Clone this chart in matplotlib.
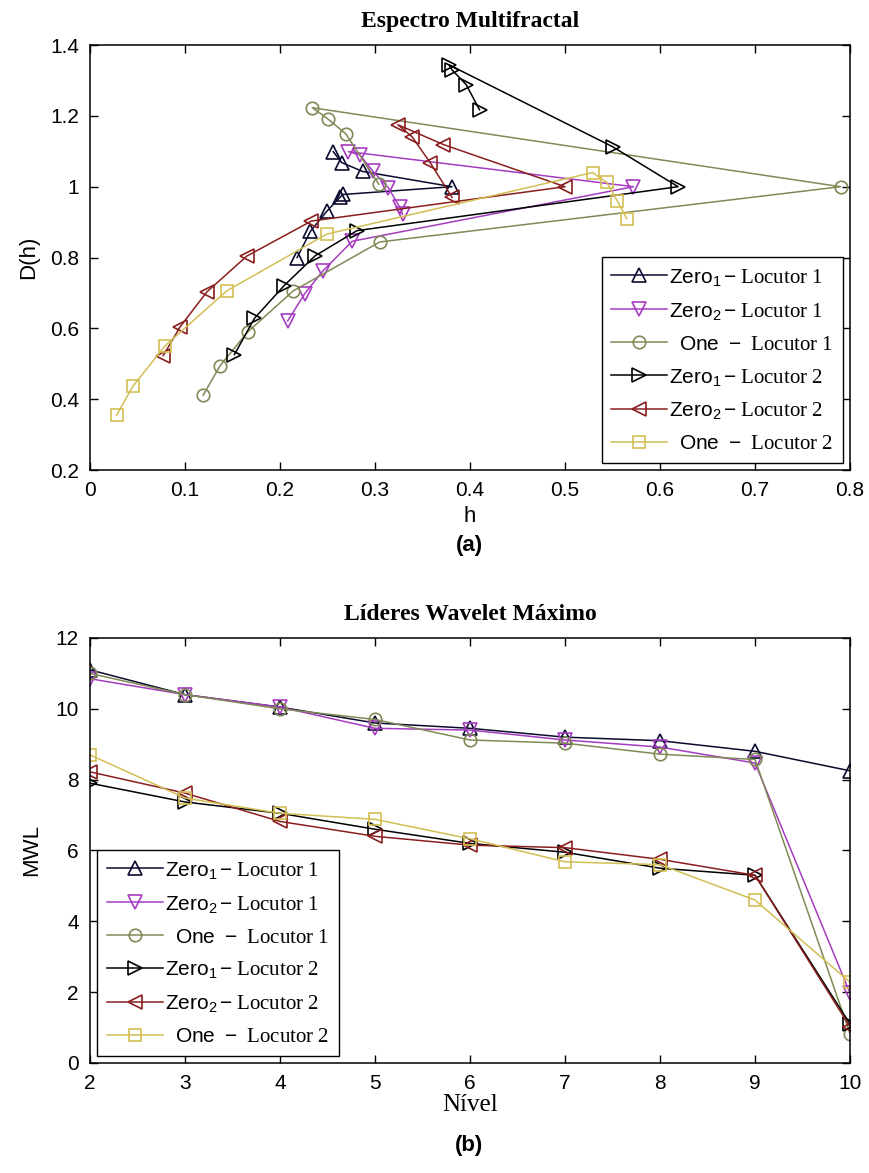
import matplotlib
matplotlib.use('Agg')
import matplotlib.pyplot as plt
import numpy as np

plt.rcParams['font.family'] = ['Liberation Sans', 'DejaVu Sans']
plt.rcParams['mathtext.fontset'] = 'custom'
plt.rcParams['mathtext.rm'] = 'Liberation Serif'
plt.rcParams['mathtext.sf'] = 'Liberation Sans'
plt.rcParams['mathtext.it'] = 'Liberation Serif:italic'

# ---- (a) multifractal spectrum: h, D(h) ----
z1l1_h = [0.218, 0.232, 0.249, 0.263, 0.266, 0.381, 0.287, 0.265, 0.256]
z1l1_d = [0.800, 0.874, 0.930, 0.970, 0.978, 1.000, 1.043, 1.068, 1.099]

z2l1_h = [0.208, 0.226, 0.245, 0.276, 0.572, 0.272, 0.284, 0.298, 0.314, 0.326, 0.329]
z2l1_d = [0.621, 0.698, 0.762, 0.846, 1.000, 1.099, 1.090, 1.043, 0.997, 0.942, 0.922]

one1_h = [0.119, 0.137, 0.166, 0.214, 0.305, 0.790, 0.234, 0.250, 0.269, 0.304]
one1_d = [0.411, 0.495, 0.590, 0.706, 0.844, 1.000, 1.223, 1.192, 1.150, 1.007]

z1l2_h = [0.152, 0.173, 0.204, 0.237, 0.281, 0.619, 0.550, 0.378, 0.381, 0.396, 0.410]
z1l2_d = [0.526, 0.628, 0.720, 0.805, 0.876, 1.000, 1.113, 1.344, 1.330, 1.288, 1.217]

z2l2_h = [0.077, 0.095, 0.123, 0.165, 0.233, 0.500, 0.372, 0.324, 0.339, 0.358, 0.381]
z2l2_d = [0.523, 0.605, 0.703, 0.804, 0.903, 1.000, 1.119, 1.175, 1.141, 1.068, 0.970]

one2_h = [0.028, 0.045, 0.079, 0.144, 0.249, 0.529, 0.544, 0.555, 0.565]
one2_d = [0.355, 0.436, 0.551, 0.706, 0.866, 1.040, 1.012, 0.960, 0.910]

# ---- (b) maximum wavelet leaders per level ----
levels = [2, 3, 4, 5, 6, 7, 8, 9, 10]
mwl_z1l1 = [11.10, 10.40, 10.05, 9.60, 9.45, 9.20, 9.10, 8.80, 8.25]
mwl_z2l1 = [10.85, 10.40, 10.05, 9.45, 9.40, 9.12, 8.92, 8.47, 1.97]
mwl_one1 = [11.00, 10.40, 10.00, 9.70, 9.12, 9.03, 8.72, 8.57, 0.82]
mwl_z1l2 = [7.90, 7.37, 7.05, 6.60, 6.20, 5.95, 5.50, 5.30, 1.10]
mwl_z2l2 = [8.22, 7.62, 6.82, 6.40, 6.15, 6.08, 5.75, 5.30, 1.02]
mwl_one2 = [8.70, 7.48, 7.05, 6.88, 6.33, 5.68, 5.60, 4.60, 2.28]

labels = [
    r'$\mathsf{Zero}_{\mathsf{1}}\,\mathsf{-}\ \mathrm{Locutor\ 1}$',
    r'$\mathsf{Zero}_{\mathsf{2}}\,\mathsf{-}\ \mathrm{Locutor\ 1}$',
    r'$\ \ \mathsf{One}\ \ \mathsf{-}\ \ \mathrm{Locutor\ 1}$',
    r'$\mathsf{Zero}_{\mathsf{1}}\,\mathsf{-}\ \mathrm{Locutor\ 2}$',
    r'$\mathsf{Zero}_{\mathsf{2}}\,\mathsf{-}\ \mathrm{Locutor\ 2}$',
    r'$\ \ \mathsf{One}\ \ \mathsf{-}\ \ \mathrm{Locutor\ 2}$',
]
styles = [
    dict(color='#0a0a2e', marker='^', ms=10),
    dict(color='#a63cc0', marker='v', ms=10),
    dict(color='#7f8a55', marker='o', ms=9),
    dict(color='#000000', marker='>', ms=10),
    dict(color='#8a1e1e', marker='<', ms=10),
    dict(color='#d2bf55', marker='s', ms=8),
]

fig = plt.figure(figsize=(8.69, 11.73), dpi=100)
ax1 = fig.add_axes([0.1036, 0.5993, 0.8746, 0.3623])
ax2 = fig.add_axes([0.1036, 0.0938, 0.8746, 0.3623])

top = [(z1l1_h, z1l1_d), (z2l1_h, z2l1_d), (one1_h, one1_d),
       (z1l2_h, z1l2_d), (z2l2_h, z2l2_d), (one2_h, one2_d)]
bot = [mwl_z1l1, mwl_z2l1, mwl_one1, mwl_z1l2, mwl_z2l2, mwl_one2]

for (h, d), lab, st in zip(top, labels, styles):
    ax1.plot(h, d, color=st['color'], marker=st['marker'], ms=st['ms'],
             mfc='none', mec=st['color'], mew=1.2, lw=1.1, label=lab)
for y, lab, st in zip(bot, labels, styles):
    ax2.plot(levels, y, color=st['color'], marker=st['marker'], ms=st['ms'],
             mfc='none', mec=st['color'], mew=1.2, lw=1.1, label=lab)

ax1.set_xlim(0, 0.8)
ax1.set_ylim(0.2, 1.4)
ax1.set_xticks(np.arange(0, 0.81, 0.1))
ax1.set_xticklabels(['0', '0.1', '0.2', '0.3', '0.4', '0.5', '0.6', '0.7', '0.8'])
ax1.set_yticks(np.arange(0.2, 1.41, 0.2))
ax1.set_yticklabels(['0.2', '0.4', '0.6', '0.8', '1', '1.2', '1.4'])

ax2.set_xlim(2, 10)
ax2.set_ylim(0, 12)
ax2.set_xticks(levels)
ax2.set_yticks(range(0, 13, 2))

for ax in (ax1, ax2):
    ax.tick_params(direction='in', top=True, right=True, labelsize=15,
                   length=6, width=1, pad=8)
    for s in ax.spines.values():
        s.set_linewidth(1.1)

ax1.set_title('Espectro Multifractal', family='Liberation Serif',
              fontweight='bold', fontsize=17, pad=13)
ax1.set_xlabel('h', fontsize=16, labelpad=4)
ax1.set_ylabel('D(h)', fontsize=16, labelpad=8)

ax2.set_title('Líderes Wavelet Máximo', family='Liberation Serif',
              fontweight='bold', fontsize=17, pad=13)
ax2.set_xlabel('Nível', family='Liberation Serif', fontsize=18, labelpad=1)
ax2.set_ylabel('MWL', fontsize=16, labelpad=10)

leg_kw = dict(fontsize=15, handlelength=2.7, labelspacing=0.62, borderaxespad=0.35,
              fancybox=False, framealpha=1, edgecolor='black', handletextpad=0.1,
              borderpad=0.45)
l1 = ax1.legend(loc='lower right', **leg_kw)
l2 = ax2.legend(loc='lower left', **leg_kw)
for lg in (l1, l2):
    lg.get_frame().set_linewidth(1.0)

fig.text(0.54, 1 - 545 / 1173, '(a)', ha='center', va='center',
         fontsize=16, fontweight='bold')
fig.text(0.54, 1 - 1145 / 1173, '(b)', ha='center', va='center',
         fontsize=16, fontweight='bold')

fig.savefig('out.png', dpi=100)
